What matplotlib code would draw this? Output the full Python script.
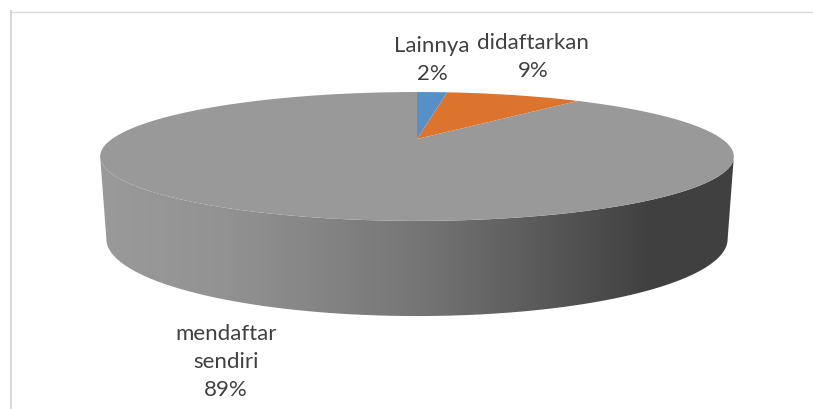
import matplotlib
matplotlib.use('Agg')
import matplotlib.pyplot as plt
import numpy as np
from matplotlib.patches import Polygon
from matplotlib.colors import LinearSegmentedColormap

labels = ['Lainnya', 'didaftarkan', 'mendaftar\nsendiri']
values = [2, 9, 89]
colors = ['#5590c8', '#dd742d', '#999999']
label_pos = [(432, 60), (533, 57), (226, 362)]

W, H = 813, 410
fig = plt.figure(figsize=(W / 100, H / 100), dpi=100)
ax = fig.add_axes([0, 0, 1, 1])
ax.set_xlim(0, W)
ax.set_ylim(H, 0)
ax.axis('off')

K_TOP, K_BOT = 0.271, 0.234


def project(t, top=True):
    # perspective view of the unit circle, t is clockwise from 12 o'clock
    u, v = np.sin(t), np.cos(t)
    if top:
        k, a, b, y0 = K_TOP, 305, 59.7, 140
    else:
        k, a, b, y0 = K_BOT, 302, 72.8, 222
    w = 1 + k * v
    return 417 + a * u / w, y0 - b * v / w


# side wall, from the widest point of each face round the front
t0 = np.arccos(-K_TOP)
xt, yt = project(np.linspace(t0, 2 * np.pi - t0, 300))
t1 = np.arccos(-K_BOT)
xb, yb = project(np.linspace(t1, 2 * np.pi - t1, 300), top=False)
side = np.vstack([np.column_stack([xt, yt]), np.column_stack([xb, yb])[::-1]])
wall = Polygon(side, closed=True, fc='none', ec='none')
ax.add_patch(wall)
grad = LinearSegmentedColormap.from_list('wall', [(0, '#9a9a9a'), (0.2, '#929292'),
                                                  (0.5, '#767676'), (0.8, '#4a4a4a'),
                                                  (0.87, '#404040'), (1, '#404040')])
im = ax.imshow(np.linspace(0, 1, 256).reshape(1, -1), cmap=grad, aspect='auto',
               extent=[100, 734, 330, 140], zorder=1)
im.set_clip_path(wall)
ax.set_xlim(0, W)
ax.set_ylim(H, 0)

# top face, one wedge per value
start = 0
fracs = np.array(values) / np.sum(values)
for frac, col in zip(fracs, colors):
    t = np.linspace(start, start + frac * 2 * np.pi, 200)
    x, y = project(t)
    pts = np.vstack([[417, 140], np.column_stack([x, y])])
    ax.add_patch(Polygon(pts, closed=True, fc=col, ec='none', zorder=2))
    start += frac * 2 * np.pi

for name, val, (lx, ly) in zip(labels, values, label_pos):
    ax.text(lx, ly, f'{name}\n{val}%', ha='center', va='center', family='Lato',
            fontsize=16, color='#404040', linespacing=1.5, zorder=3)

# chart frame
ax.plot([11, 11], [H, 12], color='#d9d9d9', lw=1.5, zorder=0)
ax.plot([10, W], [12.5, 12.5], color='#d9d9d9', lw=1, zorder=0)

fig.savefig('out.png', dpi=100)
